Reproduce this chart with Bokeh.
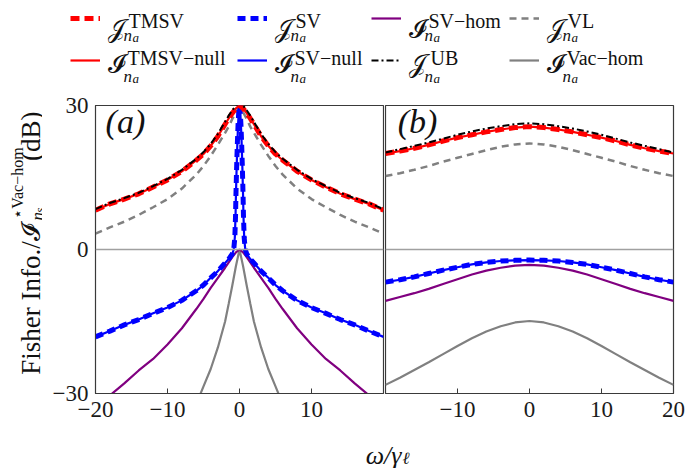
from math import pi
from bokeh.plotting import figure
from bokeh.models import Range1d, Span, Label, Legend, LegendItem, FixedTicker
from bokeh.layouts import column, row
from bokeh.embed import file_html
from bokeh.resources import INLINE

M = "\u2212"
SERIF = "Liberation Serif"
SCRIPT = "DejaVu Sans"

# ---------------- data, panel (a) ----------------
omega_a = [-20, -18, -16, -14, -12, -10, -8, -6, -5, -4, -3, -2, -1.5, -1, -0.5, 0,
           0.5, 1, 1.5, 2, 3, 4, 5, 6, 8, 10, 12, 14, 16, 18, 20]
tmsv_a = [8.2, 9.5, 10.5, 11.6, 13.0, 14.5, 16.3, 18.6, 19.9, 21.6, 23.6, 26.1, 27.3, 28.4, 29.4, 30.0,
          29.4, 28.4, 27.3, 26.1, 23.6, 21.6, 19.9, 18.6, 16.3, 14.5, 13.0, 11.6, 10.5, 9.5, 8.2]
tmsv_null_a = [8.2, 9.5, 10.5, 11.6, 13.0, 14.5, 16.3, 18.6, 19.9, 21.6, 23.6, 26.1, 27.3, 28.4, 29.4, 30.0,
               29.4, 28.4, 27.3, 26.1, 23.6, 21.6, 19.9, 18.6, 16.3, 14.5, 13.0, 11.6, 10.5, 9.5, 8.2]
ub_a = [8.4, 9.7, 10.7, 11.8, 13.2, 14.7, 16.6, 18.9, 20.3, 22.0, 24.1, 26.6, 27.9, 29.0, 30.0, 30.6,
        30.0, 29.0, 27.9, 26.6, 24.1, 22.0, 20.3, 18.9, 16.6, 14.7, 13.2, 11.8, 10.7, 9.7, 8.4]
vl_a = [3.3, 4.6, 5.8, 7.2, 8.8, 10.5, 12.7, 15.6, 17.4, 19.5, 21.8, 24.3, 25.6, 27.2, 28.6, 29.6,
        28.6, 27.2, 25.6, 24.3, 21.8, 19.5, 17.4, 15.6, 12.7, 10.5, 8.8, 7.2, 5.8, 4.6, 3.3]
svhom_a = [-33.0, -30.4, -27.9, -25.2, -22.8, -19.8, -16.4, -12.4, -10.3, -8.0, -5.9, -3.8, -2.7, -1.6, -0.6, 0.0,
           -0.6, -1.6, -2.7, -3.8, -5.9, -8.0, -10.3, -12.4, -16.4, -19.8, -22.8, -25.2, -27.9, -30.4, -33.0]

omega_sv_a = [-20, -18, -16, -14, -12, -10, -8, -6, -5, -4, -3, -2, -1.5, -1, -0.8, -0.65, -0.55, -0.5,
              -0.4, -0.3, -0.2, -0.1, 0, 0.1, 0.2, 0.3, 0.4, 0.5, 0.55, 0.65, 0.8, 1, 1.5, 2, 3, 4, 5, 6,
              8, 10, 12, 14, 16, 18, 20]
sv_a = [-18.2, -17.0, -15.7, -14.6, -13.3, -12.1, -10.6, -8.6, -7.4, -5.9, -4.5, -2.8, -2.0, -0.9, 0.0, 2.5,
        7.0, 11.0, 17.0, 22.0, 26.0, 28.8, 30.0, 28.8, 26.0, 22.0, 17.0, 11.0, 7.0, 2.5, 0.0, -0.9, -2.0,
        -2.8, -4.5, -5.9, -7.4, -8.6, -10.6, -12.1, -13.3, -14.6, -15.7, -17.0, -18.2]
sv_null_a = [-18.2, -17.0, -15.7, -14.6, -13.3, -12.1, -10.6, -8.6, -7.4, -5.9, -4.5, -2.8, -2.0, -0.9, 0.0, 2.5,
             7.0, 11.0, 17.0, 22.0, 26.0, 28.8, 30.0, 28.8, 26.0, 22.0, 17.0, 11.0, 7.0, 2.5, 0.0, -0.9, -2.0,
             -2.8, -4.5, -5.9, -7.4, -8.6, -10.6, -12.1, -13.3, -14.6, -15.7, -17.0, -18.2]

omega_vac_a = [-6, -5, -4, -3, -2, -1.5, -1, -0.5, 0, 0.5, 1, 1.5, 2, 3, 4, 5, 6]
vac_a = [-32.2, -28.5, -24.9, -20.4, -15.0, -11.3, -7.5, -3.5, 0.0,
         -3.5, -7.5, -11.3, -15.0, -20.4, -24.9, -28.5, -32.2]

# ---------------- data, panel (b) ----------------
omega_b = [-20, -18, -16, -14, -12, -10, -8, -6, -4, -2, 0, 2, 4, 6, 8, 10, 12, 14, 16, 18, 20]
tmsv_b = [20.0, 20.5, 21.1, 21.8, 22.6, 23.3, 23.9, 24.5, 25.0, 25.4, 25.6,
          25.4, 25.0, 24.5, 23.9, 23.3, 22.6, 21.8, 21.1, 20.5, 20.0]
tmsv_null_b = [20.0, 20.5, 21.1, 21.8, 22.6, 23.3, 23.9, 24.5, 25.0, 25.4, 25.6,
               25.4, 25.0, 24.5, 23.9, 23.3, 22.6, 21.8, 21.1, 20.5, 20.0]
ub_b = [20.2, 20.9, 21.6, 22.3, 23.1, 23.9, 24.6, 25.2, 25.7, 26.1, 26.3,
        26.1, 25.7, 25.2, 24.6, 23.9, 23.1, 22.3, 21.6, 20.9, 20.2]
vl_b = [15.3, 15.9, 16.6, 17.4, 18.3, 19.1, 19.9, 20.7, 21.4, 21.9, 22.1,
        21.9, 21.4, 20.7, 19.9, 19.1, 18.3, 17.4, 16.6, 15.9, 15.3]
sv_b = [-6.8, -6.3, -5.7, -5.0, -4.3, -3.7, -3.1, -2.7, -2.4, -2.25, -2.2,
        -2.25, -2.4, -2.7, -3.1, -3.7, -4.3, -5.0, -5.7, -6.3, -6.8]
sv_null_b = [-6.8, -6.3, -5.7, -5.0, -4.3, -3.7, -3.1, -2.7, -2.4, -2.25, -2.2,
             -2.25, -2.4, -2.7, -3.1, -3.7, -4.3, -5.0, -5.7, -6.3, -6.8]
svhom_b = [-10.7, -9.9, -9.1, -8.2, -7.2, -6.2, -5.2, -4.4, -3.8, -3.35, -3.2,
           -3.35, -3.8, -4.4, -5.2, -6.2, -7.2, -8.2, -9.1, -9.9, -10.7]
vac_b = [-28.2, -26.7, -25.1, -23.5, -21.8, -20.1, -18.5, -17.1, -16.0, -15.2, -14.9,
         -15.2, -16.0, -17.1, -18.5, -20.1, -21.8, -23.5, -25.1, -26.7, -28.2]

xticks_a = [-20, -10, 0, 10]
xticks_b = [-10, 0, 10, 20]
yticks = [-30, 0, 30]

# ---------------- styles ----------------
ST = {
    "vac": dict(line_color="#808080", line_width=2.2),
    "svhom": dict(line_color="#800080", line_width=2.2),
    "vl": dict(line_color="#808080", line_width=2.5, line_dash="7 5"),
    "svnull": dict(line_color="#0000ff", line_width=2.2),
    "sv": dict(line_color="#0000ff", line_width=5, line_dash="8 5"),
    "tmsvnull": dict(line_color="#ff0000", line_width=2.2),
    "tmsv": dict(line_color="#ff0000", line_width=5, line_dash="9 5"),
    "ub": dict(line_color="#000000", line_width=2, line_dash="7 3 2 3"),
}
AX = "#3a3a3a"
TXT = "#111111"


def panel(xticks, show_y, left, right):
    p = figure(frame_width=288, frame_height=288, x_range=Range1d(-20, 20), y_range=Range1d(-30, 30),
               toolbar_location=None, output_backend="svg",
               min_border_left=left, min_border_right=right, min_border_top=10, min_border_bottom=35)
    p.grid.visible = False
    p.outline_line_color = AX
    p.outline_line_width = 1.2
    for ax in [p.xaxis[0], p.yaxis[0]]:
        ax.axis_line_color = AX
        ax.major_tick_line_color = AX
        ax.minor_tick_line_color = None
        ax.major_tick_in = 5
        ax.major_tick_out = 0
        ax.major_label_text_font = SERIF
        ax.major_label_text_font_size = "23px"
        ax.major_label_text_color = "#1a1a1a"
    p.xaxis.ticker = FixedTicker(ticks=xticks)
    p.xaxis.major_label_overrides = {t: (M + str(-t) if t < 0 else str(t)) for t in xticks}
    p.xaxis.major_label_standoff = 8
    if show_y:
        p.yaxis.ticker = FixedTicker(ticks=yticks)
        p.yaxis.major_label_overrides = {t: (M + str(-t) if t < 0 else str(t)) for t in yticks}
        p.yaxis.major_label_standoff = 7
    else:
        p.yaxis.visible = False
    p.add_layout(Span(location=0, dimension="width", line_color="#a0a0a0", line_width=1.3))
    return p


pa = panel(xticks_a, True, 53, 1)
pb = panel(xticks_b, False, 1, 12)

pa.line(omega_vac_a, vac_a, **ST["vac"])
pa.line(omega_a, svhom_a, **ST["svhom"])
pa.line(omega_a, vl_a, **ST["vl"])
pa.line(omega_sv_a, sv_null_a, **ST["svnull"])
pa.line(omega_sv_a, sv_a, **ST["sv"])
pa.line(omega_a, tmsv_null_a, **ST["tmsvnull"])
pa.line(omega_a, tmsv_a, **ST["tmsv"])
pa.line(omega_a, ub_a, **ST["ub"])

pb.line(omega_b, vac_b, **ST["vac"])
pb.line(omega_b, svhom_b, **ST["svhom"])
pb.line(omega_b, vl_b, **ST["vl"])
pb.line(omega_b, sv_null_b, **ST["svnull"])
pb.line(omega_b, sv_b, **ST["sv"])
pb.line(omega_b, tmsv_null_b, **ST["tmsvnull"])
pb.line(omega_b, tmsv_b, **ST["tmsv"])
pb.line(omega_b, ub_b, **ST["ub"])

pa.add_layout(Label(x=-18.6, y=22.8, text="(a)", text_font=SERIF, text_font_style="italic",
                    text_font_size="34px", text_color=TXT))
pb.add_layout(Label(x=-18.3, y=22.8, text="(b)", text_font=SERIF, text_font_style="italic",
                    text_font_size="34px", text_color=TXT))


def lab(fig, x, y, text, size, font=SERIF, style="normal", align="left", angle=0.0):
    fig.add_layout(Label(x=x, y=y, text=text, text_font=font, text_font_style=style,
                         text_font_size=size, text_align=align, text_baseline="alphabetic",
                         angle=angle, text_color=TXT))


# ---------------- legend strip (screen coordinates) ----------------
leg = figure(width=685, height=95, x_range=Range1d(0, 685), y_range=Range1d(95, 0),
             toolbar_location=None, output_backend="svg", x_axis_type=None, y_axis_type=None,
             min_border=0, outline_line_color=None)
leg.grid.visible = False
R = {}
for k, (om, ys) in {"tmsv": (omega_a, tmsv_a), "tmsvnull": (omega_a, tmsv_null_a),
                    "sv": (omega_sv_a, sv_a), "svnull": (omega_sv_a, sv_null_a),
                    "svhom": (omega_a, svhom_a), "ub": (omega_a, ub_a),
                    "vl": (omega_a, vl_a), "vac": (omega_vac_a, vac_a)}.items():
    R[k] = leg.line(om, ys, visible=False, **ST[k])

cols = [("tmsv", "tmsvnull", 70), ("sv", "svnull", 237), ("svhom", "ub", 371), ("vl", "vac", 509)]
for top, bot, lx in cols:
    lg = Legend(items=[LegendItem(label=" ", renderers=[R[top]]), LegendItem(label=" ", renderers=[R[bot]])],
                location=(lx, 25), orientation="vertical", glyph_width=30, glyph_height=20,
                label_width=0, label_height=20, label_standoff=0, label_text_font_size="1px",
                spacing=22, padding=0, margin=0, border_line_color=None, background_fill_alpha=0)
    leg.add_layout(lg, "center")

J = "\U0001D4A5"
I = "\U0001D4D8"
main_x = [107, 274, 408, 546, 107, 274, 408, 546]
main_y = [28, 28, 28, 28, 63, 63, 63, 63]
main_t = [J, J, I, J, I, I, J, I]
sup_t = ["TMSV", "SV", "SV" + M + "hom", "VL", "TMSV" + M + "null", "SV" + M + "null", "UB", "Vac" + M + "hom"]
sup_dx = [21, 21, 20, 21, 20, 20, 22, 20]
sup_y = [20, 20, 20, 20, 57, 57, 57, 57]
sub_y = [35, 35, 35, 35, 76, 76, 76, 76]

for i in range(8):
    lab(leg, main_x[i], main_y[i], main_t[i], "25px", font=SCRIPT)
    lab(leg, main_x[i] + sup_dx[i], sup_y[i], sup_t[i], "20px")
    lab(leg, main_x[i] + 16, sub_y[i], "n", "17px", style="italic")
    lab(leg, main_x[i] + 25, sub_y[i] + 2, "a", "13px", style="italic")

# ---------------- y label strip ----------------
ylab = figure(width=42, height=333, x_range=Range1d(0, 42), y_range=Range1d(428, 95),
              toolbar_location=None, output_backend="svg", x_axis_type=None, y_axis_type=None,
              min_border=0, outline_line_color=None)
ylab.grid.visible = False
lab(ylab, 30, 252, "Fisher Info./", "27px", align="right", angle=pi / 2)
lab(ylab, 30, 252, I, "25px", font=SCRIPT, angle=pi / 2)
lab(ylab, 17, 226, "\u22c6Vac" + M + "hom", "16px", angle=pi / 2)
lab(ylab, 37, 228, "n", "17px", style="italic", angle=pi / 2)
lab(ylab, 39, 219, "s", "13px", style="italic", angle=pi / 2)
lab(ylab, 30, 102, "(dB)", "27px", align="right", angle=pi / 2)

# ---------------- x label strip ----------------
xlab = figure(width=685, height=40, x_range=Range1d(0, 685), y_range=Range1d(468, 428),
              toolbar_location=None, output_backend="svg", x_axis_type=None, y_axis_type=None,
              min_border=0, outline_line_color=None)
xlab.grid.visible = False
lab(xlab, 401, 455, "\u03c9/\u03b3", "26px", style="italic", align="right")
lab(xlab, 402, 458, "\u2113", "17px", style="italic")

layout = column(leg, row(ylab, pa, pb), xlab)
open("out.html", "w").write(file_html(layout, INLINE))
